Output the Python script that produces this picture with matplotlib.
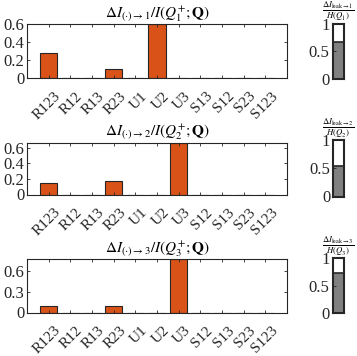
import matplotlib
matplotlib.use("Agg")
import matplotlib.pyplot as plt
from matplotlib.transforms import ScaledTranslation

plt.rcParams['font.family'] = ['Liberation Serif', 'DejaVu Serif']
plt.rcParams['mathtext.fontset'] = 'stix'

labels_1 = ['R123', 'R12', 'R13', 'R23', 'U1', 'U2', 'U3', 'S13', 'S12', 'S23', 'S123']
labels_23 = ['R123', 'R12', 'R13', 'R23', 'U1', 'U2', 'U3', 'S12', 'S13', 'S23', 'S123']

vals_1 = [0.28, 0, 0, 0.10, 0, 0.60, 0, 0, 0, 0, 0]
vals_2 = [0.15, 0, 0, 0.17, 0, 0, 0.67, 0, 0, 0, 0]
vals_3 = [0.10, 0, 0, 0.10, 0, 0, 0.78, 0, 0, 0, 0]

leak = [0.67, 0.54, 0.72]

yticks = [[0, 0.2, 0.4, 0.6], [0, 0.2, 0.4, 0.6], [0, 0.3, 0.6]]
ytick_labels = [['0', '0.2', '0.4', '0.6'], ['0', '0.2', '0.4', '0.6'], ['0', '0.3', '0.6']]

W, H = 357, 356
fig = plt.figure(figsize=(W / 100, H / 100), dpi=100)

# pixel boxes (left, top, right, bottom)
main_boxes = [(27, 24, 287, 78), (27, 142.5, 287, 194.5), (27, 258.5, 287, 312.5)]
small_boxes = [(332.5, 23.5, 344, 79), (333, 140, 344, 196.5), (332.5, 258, 344, 313)]

orange = '#D95319'
edge = '#262626'


def px_axes(box):
    l, t, r, b = box
    return fig.add_axes([l / W, (H - b) / H, (r - l) / W, (b - t) / H])


all_vals = [vals_1, vals_2, vals_3]
all_labels = [labels_1, labels_23, labels_23]
shift = ScaledTranslation(0.10, -0.16, fig.dpi_scale_trans)

for i in range(3):
    ax = px_axes(main_boxes[i])
    x = list(range(1, 12))
    ax.bar(x, all_vals[i], width=0.8, color=orange, edgecolor=edge, linewidth=0.8)
    ax.set_xlim(0, 12)
    ax.set_ylim(0, max(all_vals[i]))
    ax.set_xticks(x)
    ax.set_xticklabels([])
    # rotated category labels, offset like the original
    for xi, lab in zip(x, all_labels[i]):
        ax.text(xi, 0, lab, rotation=45, ha='right', va='center', rotation_mode='anchor',
                fontsize=11, color=edge, transform=ax.get_xaxis_transform() + shift)
    ax.set_yticks(yticks[i])
    ax.set_yticklabels(ytick_labels[i], fontsize=12)
    ax.tick_params(direction='in', top=True, right=True, length=2.5, width=0.6, pad=2, colors=edge)
    for s in ax.spines.values():
        s.set_color(edge)
        s.set_linewidth(0.8)
    n = i + 1
    ax.set_title(r'$\Delta I_{(\cdot)\to %d}/I(Q_%d^{+};\mathbf{Q})$' % (n, n), fontsize=11, pad=2)

    sax = px_axes(small_boxes[i])
    sax.bar([0], [leak[i]], width=1.0, color='#808080', edgecolor=edge, linewidth=1.2)
    sax.set_xlim(-0.5, 0.5)
    sax.set_ylim(0, 1)
    sax.set_xticks([])
    sax.set_yticks([0, 0.5, 1])
    sax.set_yticklabels(['0', '0.5', '1'], fontsize=12)
    sax.tick_params(direction='in', length=2, width=0.6, pad=2, colors=edge)
    for s in sax.spines.values():
        s.set_color(edge)
        s.set_linewidth(1.5)
    sax.set_title(r'$\frac{\Delta I_{\mathrm{leak}\to %d}}{H(Q_%d)}$' % (n, n), fontsize=9, pad=5)

fig.savefig('out.png', dpi=100)
